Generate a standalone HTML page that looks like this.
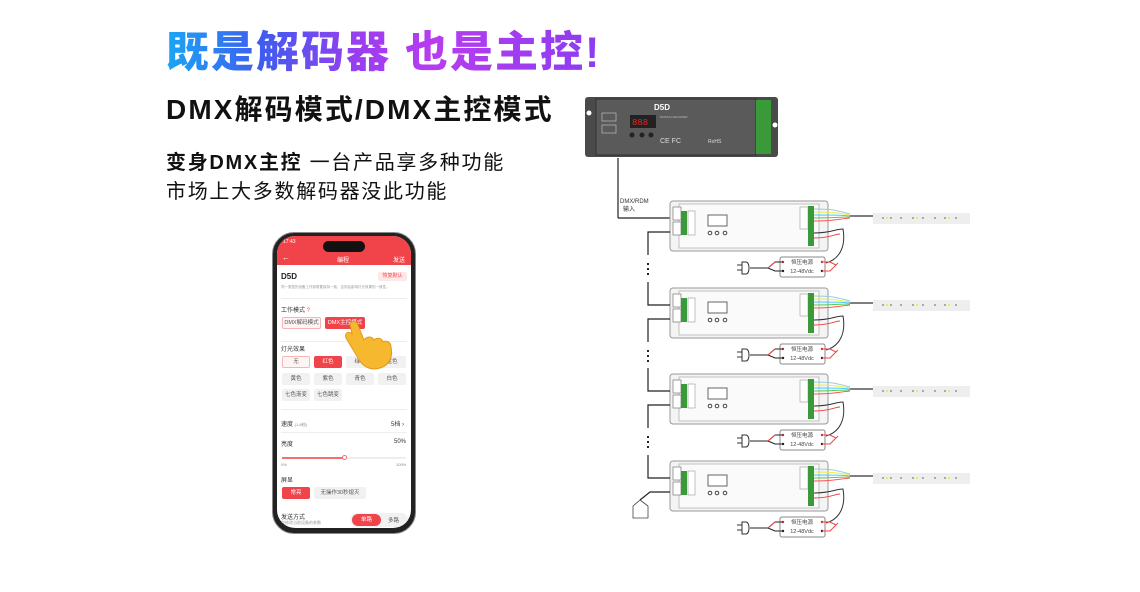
<!DOCTYPE html>
<html><head><meta charset="utf-8"><style>
*{margin:0;padding:0;box-sizing:border-box}
body{width:1140px;height:592px;background:#fff;position:relative;overflow:hidden;font-family:"Liberation Sans","Noto Sans CJK SC",sans-serif}
.a{position:absolute;white-space:nowrap}
.t1{left:166px;top:28px;font-size:43px;font-weight:900;letter-spacing:2px;line-height:50px;background:linear-gradient(90deg,#1aa6f5 0%,#3f5cf0 22%,#9c3df0 45%,#b83cf0 62%,#8c3cf0 100%);-webkit-background-clip:text;background-clip:text;color:transparent}
.t2{left:166px;top:93px;font-size:28px;font-weight:700;color:#111;line-height:34px;letter-spacing:2.1px}
.t3{left:166px;top:149px;font-size:20px;color:#111;line-height:29px;letter-spacing:1.7px}
.ph{position:absolute;left:272px;top:232px;width:144px;height:302px;border-radius:22px;background:#222;border:1px solid #888}
.sc{position:absolute;left:277px;top:236px;width:134px;height:292px;border-radius:18px;background:#fff;overflow:hidden}
.hd{position:absolute;left:0;top:0;width:134px;height:29px;background:#f0444a}
.s{position:absolute;font-size:6px;color:#333;white-space:nowrap}
.b{position:absolute;height:12px;font-size:5.5px;line-height:12px;text-align:center;background:#f1f1f1;color:#555;border-radius:2px}
.r{background:#f0444a;color:#fff}
.o{background:#fff4f4;border:1px solid #f5b5b5;line-height:10px}
.ln{position:absolute;left:4px;width:126px;height:1px;background:#eee}
</style></head><body>
<div class="a t1">既是解码器 也是主控!</div>
<div class="a t2">DMX解码模式/DMX主控模式</div>
<div class="a t3"><b>变身DMX主控</b> 一台产品享多种功能<br>市场上大多数解码器没此功能</div>

<div class="ph"></div>
<div class="sc">
 <div class="hd"></div>
 <div class="s" style="left:6px;top:3px;color:#fff;font-size:5px">17:43</div>
 <div style="position:absolute;left:46px;top:5px;width:42px;height:11px;border-radius:6px;background:#111"></div>
 <div class="s" style="left:5px;top:17px;color:#fff;font-size:8px">←</div>
 <div class="s" style="left:60px;top:19px;color:#fff;font-size:6px">编程</div>
 <div class="s" style="left:116px;top:19px;color:#fff;font-size:6px">发送</div>
 <div class="s" style="left:4px;top:36px;font-size:8px;font-weight:700;color:#222">D5D</div>
 <div class="b" style="left:101px;top:36px;width:29px;height:9px;line-height:9px;background:#fde8e8;color:#f0444a;font-size:5px">恢复默认</div>
 <div class="s" style="left:4px;top:49px;font-size:3.5px;color:#999">同一类型的设备工作参数要保持一致，否则会影响灯光效果的一致性。</div>
 <div class="ln" style="top:62px"></div>
 <div class="s" style="left:4px;top:69px">工作模式 <span style="color:#f0444a">?</span></div>
 <div class="b o" style="left:5px;top:81px;width:39px">DMX解码模式</div>
 <div class="b r" style="left:48px;top:81px;width:40px">DMX主控模式</div>
 <div class="ln" style="top:105px"></div>
 <div class="s" style="left:4px;top:108px">灯光效果</div>
 <div class="b o" style="left:5px;top:120px;width:28px">无</div>
 <div class="b r" style="left:37px;top:120px;width:28px">红色</div>
 <div class="b" style="left:69px;top:120px;width:28px">绿色</div>
 <div class="b" style="left:101px;top:120px;width:28px">蓝色</div>
 <div class="b" style="left:5px;top:137px;width:28px">黄色</div>
 <div class="b" style="left:37px;top:137px;width:28px">紫色</div>
 <div class="b" style="left:69px;top:137px;width:28px">青色</div>
 <div class="b" style="left:101px;top:137px;width:28px">白色</div>
 <div class="b" style="left:5px;top:153px;width:28px">七色渐变</div>
 <div class="b" style="left:37px;top:153px;width:28px">七色跳变</div>
 <div class="ln" style="top:173px"></div>
 <div class="s" style="left:4px;top:183px">速度 <span style="font-size:4px;color:#888">(1-8档)</span></div>
 <div class="s" style="left:114px;top:183px">5档 ›</div>
 <div class="ln" style="top:196px"></div>
 <div class="s" style="left:4px;top:203px">亮度</div>
 <div class="s" style="left:117px;top:203px">50%</div>
 <div style="position:absolute;left:5px;top:221px;width:124px;height:2px;background:#eee"></div>
 <div style="position:absolute;left:5px;top:221px;width:62px;height:2px;background:#f07070"></div>
 <div style="position:absolute;left:65px;top:219px;width:5px;height:5px;border-radius:50%;background:#fff;border:1px solid #f07070"></div>
 <div class="s" style="left:4px;top:226px;font-size:4px;color:#888">0%</div>
 <div class="s" style="left:119px;top:226px;font-size:4px;color:#888">100%</div>
 <div class="s" style="left:4px;top:239px">屏显</div>
 <div class="b r" style="left:5px;top:251px;width:28px">常亮</div>
 <div class="b" style="left:37px;top:251px;width:52px">无操作30秒熄灭</div>
 <div class="s" style="left:4px;top:276px">发送方式</div>
 <div class="s" style="left:4px;top:284px;font-size:4px;color:#999">仅修改当前设备的参数</div>
 <div style="position:absolute;left:73px;top:277px;width:58px;height:14px;border-radius:7px;background:#f1f1f1"></div>
 <div class="b r" style="left:75px;top:278px;width:29px;border-radius:6px">单路</div>
 <div class="s" style="left:111px;top:280px;font-size:5.5px;color:#555">多路</div>
</div>
<svg class="a" style="left:340px;top:318px" width="60" height="55" viewBox="0 0 60 55">
 <path d="M10 6 C12 2 17 3 18 7 L24 22 C27 18 32 18 34 22 C37 19 42 20 43 24 C46 22 51 24 51 29 C53 38 50 47 40 50 C30 53 22 48 18 40 L6 20 C4 16 8 12 12 16 Z" fill="#f5b82e" stroke="#e39a1b" stroke-width="1"/>
</svg>

<svg class="a" style="left:0;top:0" width="1140" height="592" viewBox="0 0 1140 592" font-family="Liberation Sans,Noto Sans CJK SC,sans-serif">
 <rect x="585" y="97" width="193" height="60" rx="3" fill="#4a4a4a"/>
 <rect x="596" y="99" width="160" height="56" fill="#5a5a5a" stroke="#333" stroke-width="1"/>
 <rect x="756" y="100" width="15" height="54" fill="#3a9a3a"/>
 <circle cx="589" cy="113" r="2.5" fill="#fff"/><circle cx="775" cy="125" r="2.5" fill="#fff"/>
 <text x="654" y="110" font-size="8" fill="#fff" font-weight="700">D5D</text>
 <rect x="630" y="115" width="26" height="13" fill="#222"/>
 <text x="632" y="125" font-size="9" fill="#e22" font-family="Liberation Mono">888</text>
 <circle cx="632" cy="135" r="2.5" fill="#222"/><circle cx="642" cy="135" r="2.5" fill="#222"/><circle cx="651" cy="135" r="2.5" fill="#222"/>
 <rect x="602" y="113" width="14" height="8" fill="none" stroke="#ccc" stroke-width=".6"/>
 <rect x="602" y="125" width="14" height="8" fill="none" stroke="#ccc" stroke-width=".6"/>
 <text x="660" y="143" font-size="7" fill="#ddd">CE FC</text>
 <text x="708" y="143" font-size="5" fill="#ddd">RoHS</text>
 <text x="660" y="118" font-size="3" fill="#bbb">DMX512 DECODER</text>
 <line x1="618" y1="158" x2="618" y2="218" stroke="#222" stroke-width="1.2"/>
 <text x="620" y="203" font-size="6" fill="#333">DMX/RDM</text>
 <text x="623" y="211" font-size="6" fill="#333">输入</text>
 <path d="M618 218 H670" stroke="#222" stroke-width="1.2" fill="none"/>

 <defs>
  <g id="u">
   <rect x="670" y="0" width="158" height="50" rx="3" fill="#f4f4f4" stroke="#999"/>
   <rect x="679" y="3" width="140" height="44" fill="#fafafa" stroke="#aaa" stroke-width=".7"/>
   <rect x="673" y="6" width="8" height="13" fill="#fff" stroke="#777" stroke-width=".7"/>
   <rect x="673" y="21" width="8" height="13" fill="#fff" stroke="#777" stroke-width=".7"/>
   <rect x="681" y="10" width="6" height="24" fill="#3a9a3a"/>
   <rect x="688" y="10" width="7" height="24" fill="#fff" stroke="#999" stroke-width=".6"/>
   <rect x="708" y="14" width="19" height="11" fill="#fff" stroke="#666"/>
   <circle cx="710" cy="32" r="1.8" fill="none" stroke="#444"/><circle cx="717" cy="32" r="1.8" fill="none" stroke="#444"/><circle cx="725" cy="32" r="1.8" fill="none" stroke="#444"/>
   <rect x="800" y="6" width="8" height="22" fill="#fff" stroke="#999" stroke-width=".6"/>
   <rect x="808" y="5" width="6" height="40" fill="#3a9a3a"/>
   <path d="M814 8 C835 8 838 10 850 13" stroke="#9cd" fill="none"/>
   <path d="M814 11 C835 11 838 12 850 14" stroke="#ee4" fill="none"/>
   <path d="M814 14 C835 14 838 14 850 15" stroke="#4cf" fill="none"/>
   <path d="M814 17 C835 17 838 16 850 16" stroke="#5c5" fill="none"/>
   <path d="M814 20 C835 20 838 18 850 17" stroke="#f55" fill="none"/>
   <path d="M850 15 H873" stroke="#333" stroke-width="1.2"/>
   <rect x="873" y="12" width="97" height="11" fill="#eee"/>
   <g fill="#aaa"><rect x="882" y="16" width="2" height="2"/><rect x="890" y="16" width="2" height="2"/><rect x="900" y="16" width="2" height="2"/><rect x="912" y="16" width="2" height="2"/><rect x="922" y="16" width="2" height="2"/><rect x="934" y="16" width="2" height="2"/><rect x="944" y="16" width="2" height="2"/><rect x="955" y="16" width="2" height="2"/></g>
   <g fill="#ee4"><rect x="886" y="16" width="2" height="2"/><rect x="916" y="16" width="2" height="2"/><rect x="948" y="16" width="2" height="2"/></g>
   <path d="M814 32 C832 32 835 28 843 28 C846 45 840 58 826 62" stroke="#333" fill="none"/>
   <path d="M814 37 C830 37 835 33 840 33" stroke="#e44" fill="none"/>
   <rect x="780" y="56" width="45" height="20" rx="2" fill="#fff" stroke="#888"/>
   <circle cx="783" cy="61" r="1.2" fill="#e22"/><circle cx="783" cy="70" r="1.2" fill="#222"/>
   <circle cx="822" cy="61" r="1.2" fill="#e22"/><circle cx="822" cy="70" r="1.2" fill="#222"/>
   <path d="M750 67 H768 L775 61 H783 M768 67 L775 70 H783" stroke="#222" fill="none"/>
   <path d="M768 67 L775 61" stroke="#e44" fill="none"/>
   <path d="M822 61 H830 L836 64 M822 70 H830 L838 62" stroke="#e44" fill="none"/>
   <path d="M737 64 H742 M737 69 H742" stroke="#333"/>
   <path d="M742 61 H746 C750 61 750 73 746 73 H742 Z" fill="#fff" stroke="#333"/>
  </g>
 </defs>
 <use href="#u" transform="translate(0,201)"/>
 <use href="#u" transform="translate(0,288)"/>
 <use href="#u" transform="translate(0,374)"/>
 <use href="#u" transform="translate(0,461)"/>
 <g font-size="5.5" fill="#444" text-anchor="middle">
  <text x="802" y="264">恒压电源</text><text x="802" y="273">12-48Vdc</text>
  <text x="802" y="351">恒压电源</text><text x="802" y="360">12-48Vdc</text>
  <text x="802" y="437">恒压电源</text><text x="802" y="446">12-48Vdc</text>
  <text x="802" y="524">恒压电源</text><text x="802" y="533">12-48Vdc</text>
 </g>
 <g stroke="#222" stroke-width="1.2" fill="none">
  <path d="M670 232 H648 V255"/>
  <path d="M648 282 V305 H670"/>
  <path d="M670 319 H648 V342"/>
  <path d="M648 368 V391 H670"/>
  <path d="M670 405 H648 V428"/>
  <path d="M648 455 V478 H670"/>
  <path d="M670 492 H650 L640 500"/>
 </g>
 <g fill="#222">
  <rect x="647" y="263" width="2" height="2"/><rect x="647" y="268" width="2" height="2"/><rect x="647" y="273" width="2" height="2"/>
  <rect x="647" y="350" width="2" height="2"/><rect x="647" y="355" width="2" height="2"/><rect x="647" y="360" width="2" height="2"/>
  <rect x="647" y="436" width="2" height="2"/><rect x="647" y="441" width="2" height="2"/><rect x="647" y="446" width="2" height="2"/>
 </g>
 <path d="M640 500 L648 506 V518 H633 V506 Z" fill="#fff" stroke="#444" stroke-width=".8"/>
</svg>
</body></html>
